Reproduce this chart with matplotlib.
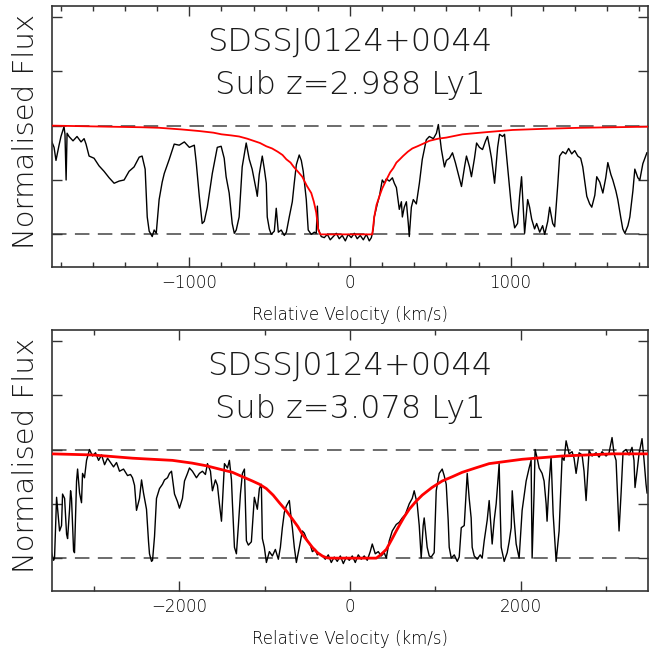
import matplotlib.pyplot as plt
from matplotlib import font_manager
from matplotlib.ticker import MultipleLocator

# Spectrum 1: sub-DLA at z=2.988 (velocity in km/s, normalised flux)
top_vel = [-1861, -1842, -1830, -1811, -1799, -1780, -1774, -1767, -1761, -1749,
           -1724, -1699, -1674, -1655, -1643, -1624, -1593, -1562, -1531, -1499,
           -1468, -1437, -1406, -1375, -1344, -1312, -1294, -1275, -1262, -1250,
           -1231, -1219, -1206, -1188, -1169, -1156, -1125, -1094, -1063, -1031,
           -1000, -969, -957, -938, -920, -907, -888, -857, -826, -802,
           -783, -771, -752, -733, -720, -708, -690, -671, -646, -627,
           -609, -584, -577, -565, -546, -533, -521, -515, -502, -490,
           -471, -459, -446, -428, -409, -396, -378, -359, -347, -334,
           -316, -303, -291, -272, -260, -241, -222, -210, -203, -197,
           -179, -160, -141, -123, -104, -85, -67, -48, -29, -11,
           8, 27, 45, 64, 83, 102, 120, 133, 145, 151,
           170, 183, 201, 214, 226, 245, 264, 276, 289, 307,
           320, 326, 338, 351, 363, 369, 382, 394, 413, 432,
           450, 475, 494, 519, 538, 550, 569, 588, 600, 619,
           638, 656, 675, 694, 713, 725, 744, 756, 775, 788,
           806, 825, 844, 856, 869, 881, 900, 919, 931, 950,
           962, 981, 1006, 1025, 1043, 1056, 1068, 1087, 1106, 1118,
           1131, 1149, 1162, 1181, 1199, 1212, 1231, 1243, 1262, 1274,
           1293, 1305, 1324, 1343, 1361, 1380, 1399, 1418, 1436, 1449,
           1474, 1492, 1505, 1524, 1536, 1555, 1574, 1592, 1605, 1624,
           1636, 1655, 1667, 1686, 1698, 1711, 1730, 1742, 1761, 1773,
           1792, 1804, 1823, 1848]
top_flux = [0.87, 0.80, 0.68, 0.82, 0.90, 0.99, 0.92, 0.50, 0.93, 0.90,
            0.86, 0.90, 0.85, 0.88, 0.83, 0.72, 0.70, 0.63, 0.58, 0.52,
            0.47, 0.49, 0.50, 0.58, 0.62, 0.71, 0.72, 0.60, 0.16, 0.03,
            -0.02, 0.04, 0.01, 0.32, 0.48, 0.56, 0.69, 0.83, 0.82, 0.85,
            0.80, 0.82, 0.66, 0.35, 0.10, 0.12, 0.25, 0.56, 0.80, 0.81,
            0.70, 0.53, 0.38, 0.10, 0.01, 0.04, 0.16, 0.62, 0.84, 0.69,
            0.60, 0.41, 0.35, 0.55, 0.72, 0.60, 0.47, 0.16, 0.05, 0.00,
            0.03, 0.24, 0.02, 0.04, -0.01, 0.02, 0.16, 0.30, 0.47, 0.64,
            0.73, 0.68, 0.58, 0.32, 0.04, 0.00, 0.02, 0.01, 0.26, 0.05,
            -0.02, -0.03, 0.00, -0.05, -0.02, 0.01, -0.04, -0.01, -0.06, 0.00,
            -0.03, 0.01, -0.04, -0.01, -0.05, 0.00, -0.06, -0.03, 0.05, 0.16,
            0.28, 0.35, 0.50, 0.47, 0.51, 0.49, 0.52, 0.47, 0.43, 0.23,
            0.30, 0.16, 0.25, 0.30, 0.10, -0.02, 0.25, 0.32, 0.28, 0.47,
            0.69, 0.87, 0.90, 0.88, 0.93, 1.01, 0.78, 0.62, 0.68, 0.70,
            0.75, 0.66, 0.55, 0.44, 0.62, 0.72, 0.62, 0.53, 0.70, 0.84,
            0.80, 0.78, 0.86, 0.90, 0.80, 0.70, 0.47, 0.80, 0.92, 0.90,
            0.92, 0.62, 0.23, 0.06, 0.10, 0.35, 0.53, 0.01, 0.32, 0.25,
            0.14, 0.05, 0.10, 0.02, 0.08, 0.00, 0.12, 0.25, 0.10, 0.07,
            0.45, 0.72, 0.76, 0.74, 0.79, 0.74, 0.77, 0.72, 0.70, 0.62,
            0.35, 0.28, 0.25, 0.36, 0.53, 0.48, 0.38, 0.52, 0.66, 0.55,
            0.50, 0.40, 0.32, 0.15, 0.05, 0.01, 0.08, 0.16, 0.40, 0.60,
            0.52, 0.50, 0.65, 0.75]
top_fit_vel = [-1861, -1500, -1300, -1188, -1050, -938, -850, -800, -740, -690,
               -640, -600, -560, -521, -485, -450, -420, -396, -370, -350,
               -320, -297, -270, -241, -225, -210, -197, -185, 139, 151,
               165, 183, 200, 226, 250, 270, 289, 310, 330, 360,
               388, 420, 450, 494, 550, 600, 700, 850, 1012, 1200,
               1430, 1853]
top_fit_flux = [1.00, 0.99, 0.985, 0.98, 0.965, 0.95, 0.935, 0.92, 0.91, 0.90,
                0.88, 0.86, 0.84, 0.81, 0.79, 0.76, 0.73, 0.69, 0.66, 0.62,
                0.57, 0.53, 0.45, 0.38, 0.30, 0.20, 0.04, 0.00, 0.00, 0.16,
                0.27, 0.35, 0.42, 0.50, 0.57, 0.61, 0.66, 0.69, 0.72, 0.76,
                0.79, 0.81, 0.83, 0.86, 0.88, 0.89, 0.92, 0.94, 0.96, 0.97,
                0.98, 0.99]

# Spectrum 2: sub-DLA at z=3.078
bot_vel = [-3495, -3471, -3460, -3436, -3424, -3401, -3378, -3366, -3342, -3319,
           -3307, -3284, -3272, -3261, -3237, -3226, -3202, -3190, -3167, -3144,
           -3132, -3109, -3085, -3050, -3015, -2980, -2944, -2909, -2874, -2839,
           -2804, -2769, -2734, -2699, -2652, -2605, -2570, -2547, -2523, -2500,
           -2465, -2441, -2418, -2383, -2359, -2348, -2324, -2312, -2289, -2266,
           -2231, -2196, -2172, -2137, -2114, -2090, -2055, -2020, -1997, -1962,
           -1938, -1903, -1880, -1845, -1798, -1763, -1728, -1693, -1669, -1634,
           -1611, -1576, -1552, -1529, -1505, -1482, -1470, -1435, -1412, -1388,
           -1377, -1353, -1330, -1307, -1283, -1260, -1236, -1213, -1190, -1155,
           -1120, -1085, -1061, -1038, -1026, -1003, -979, -944, -909, -874,
           -839, -815, -792, -769, -745, -710, -687, -675, -652, -628,
           -593, -558, -535, -500, -464, -441, -406, -383, -359, -324,
           -289, -254, -219, -184, -149, -113, -78, -43, -8, 27,
           62, 97, 132, 167, 202, 237, 261, 296, 331, 366,
           401, 425, 460, 495, 542, 577, 612, 647, 694, 729,
           752, 787, 811, 834, 857, 869, 904, 928, 951, 986,
           1010, 1045, 1080, 1103, 1127, 1150, 1162, 1186, 1221, 1256,
           1279, 1303, 1338, 1373, 1396, 1419, 1431, 1455, 1490, 1525,
           1548, 1572, 1607, 1630, 1654, 1665, 1689, 1712, 1736, 1747,
           1759, 1771, 1806, 1841, 1864, 1888, 1900, 1923, 1946, 1981,
           2016, 2063, 2098, 2121, 2133, 2156, 2168, 2192, 2215, 2250,
           2273, 2297, 2308, 2332, 2355, 2379, 2414, 2449, 2472, 2484,
           2507, 2531, 2566, 2601, 2624, 2648, 2683, 2718, 2741, 2765,
           2800, 2835, 2882, 2917, 2952, 2999, 3034, 3069, 3093, 3116,
           3151, 3175, 3198, 3233, 3268, 3303, 3326, 3338, 3362, 3385,
           3420, 3444, 3467, 3479]
bot_flux = [0.05, -0.02, 0.00, 0.56, 0.45, 0.25, 0.30, 0.59, 0.55, 0.22,
            0.18, 0.45, 0.62, 0.55, 0.07, 0.05, 0.71, 0.82, 0.60, 0.51,
            0.78, 0.74, 0.90, 1.00, 0.94, 0.97, 0.90, 0.95, 0.86, 0.92,
            0.88, 0.84, 0.88, 0.80, 0.82, 0.76, 0.77, 0.74, 0.67, 0.44,
            0.55, 0.72, 0.60, 0.45, 0.15, 0.04, -0.03, -0.02, 0.20, 0.55,
            0.64, 0.68, 0.72, 0.74, 0.78, 0.80, 0.59, 0.52, 0.46, 0.55,
            0.71, 0.78, 0.83, 0.80, 0.74, 0.78, 0.80, 0.77, 0.87, 0.80,
            0.62, 0.72, 0.67, 0.50, 0.34, 0.70, 0.87, 0.83, 0.90, 0.72,
            0.51, 0.10, 0.04, 0.30, 0.59, 0.78, 0.82, 0.16, 0.12, 0.15,
            0.56, 0.45, 0.64, 0.68, 0.18, 0.10, -0.04, 0.06, 0.02, 0.08,
            -0.01, 0.10, 0.28, 0.42, 0.48, 0.53, 0.35, 0.28, 0.10, -0.04,
            0.10, 0.25, 0.23, 0.16, 0.12, 0.06, 0.08, 0.03, 0.04, 0.02,
            -0.01, 0.03, -0.04, 0.01, -0.03, 0.02, -0.05, 0.01, -0.02, 0.02,
            -0.04, 0.03, -0.01, 0.02, -0.02, 0.06, 0.13, 0.04, 0.06, 0.02,
            0.05, 0.00, 0.16, 0.25, 0.31, 0.33, 0.37, 0.40, 0.50, 0.55,
            0.62, 0.50, 0.30, 0.00, 0.30, 0.37, 0.10, 0.02, 0.01, 0.05,
            0.62, 0.78, 0.82, 0.76, 0.68, 0.35, 0.10, 0.00, 0.03, -0.03,
            0.01, 0.28, 0.30, 0.78, 0.55, 0.37, 0.10, 0.02, -0.01, 0.03,
            0.00, 0.16, 0.35, 0.53, 0.25, 0.13, 0.35, 0.50, 0.75, 0.87,
            0.45, 0.10, -0.03, 0.05, 0.15, 0.28, 0.62, 0.35, 0.13, 0.00,
            0.44, 0.71, 0.83, 0.90, 0.00, 0.60, 1.00, 0.92, 0.83, 0.78,
            0.71, 0.50, 0.34, 0.70, 0.93, 0.41, -0.03, 0.25, 0.70, 0.93,
            0.90, 1.08, 0.96, 0.98, 0.92, 0.78, 0.97, 0.95, 0.80, 0.53,
            0.99, 0.94, 0.97, 0.93, 0.98, 0.94, 0.97, 1.11, 0.96, 0.90,
            0.25, 0.60, 0.98, 1.00, 0.95, 1.02, 0.90, 0.65, 0.80, 0.96,
            1.10, 0.90, 0.68, 0.60]
bot_fit_vel = [-3495, -3015, -2547, -2079, -1850, -1681, -1530, -1377, -1260, -1143,
               -1060, -979, -900, -827, -750, -675, -610, -558, -500, -441,
               -380, -324, -280, -242, 308, 343, 385, 425, 460, 495,
               535, 577, 635, 694, 770, 846, 960, 1080, 1200, 1314,
               1470, 1630, 2016, 2484, 3069, 3479]
bot_fit_flux = [0.96, 0.95, 0.92, 0.90, 0.875, 0.85, 0.82, 0.79, 0.75, 0.71,
                0.68, 0.64, 0.58, 0.51, 0.44, 0.36, 0.29, 0.22, 0.16, 0.10,
                0.05, 0.02, 0.005, 0.00, 0.00, 0.02, 0.05, 0.08, 0.13, 0.18,
                0.24, 0.30, 0.38, 0.45, 0.52, 0.58, 0.65, 0.71, 0.75, 0.79,
                0.83, 0.87, 0.91, 0.94, 0.96, 0.96]

panels = [
    (top_vel, top_flux, top_fit_vel, top_fit_flux, 1855, "Sub z=2.988 Ly1", 1000, 200, 1.3),
    (bot_vel, bot_flux, bot_fit_vel, bot_fit_flux, 3490, "Sub z=3.078 Ly1", 2000, 1000, 2.0),
]
qso_name = "SDSSJ0124+0044"


def find_light_font():
    """ Look for a thin installed font, close to the PGPLOT stroke font """
    for family in ['DejaVu Sans', 'Lato', 'Roboto', 'Open Sans', 'Noto Sans', 'Inter']:
        for f in font_manager.fontManager.ttflist:
            w = f.weight
            if not isinstance(w, int):
                w = font_manager.weight_dict.get(w, 400)
            if f.name == family and w <= 300 and f.style == 'normal':
                return f.fname
    return None


light_path = find_light_font()


def light(size):
    if light_path:
        return font_manager.FontProperties(fname=light_path, size=size)
    return font_manager.FontProperties(family='DejaVu Sans', size=size)


fig = plt.figure(figsize=(6.57, 6.49), dpi=100)
axes = [fig.add_axes([0.0791, 0.5886, 0.9072, 0.4022]),
        fig.add_axes([0.0791, 0.0898, 0.9072, 0.4017])]

for ax, (vel, flux, fvel, fflux, vmax, zlabel, major, minor, red_lw) in zip(axes, panels):
    # continuum and zero level
    for level in (0.0, 1.0):
        ax.axhline(level, color='#444444', lw=1.1, ls=(0, (9.5, 5.5)), zorder=1)
    ax.plot(vel, flux, color='black', lw=1.0, zorder=2)
    ax.plot(fvel, fflux, color='red', lw=red_lw, zorder=3)

    ax.set_xlim(-vmax, vmax)
    ax.set_ylim(-0.3, 2.1)
    ax.xaxis.set_major_locator(MultipleLocator(major))
    ax.xaxis.set_minor_locator(MultipleLocator(minor))
    ax.yaxis.set_major_locator(MultipleLocator(0.5))
    ax.tick_params(which='both', direction='in', top=True, right=True,
                   colors='#333333', width=1.0)
    ax.tick_params(which='major', length=7)
    ax.tick_params(which='minor', length=3.5)
    ax.tick_params(axis='x', labelcolor='black', pad=5)
    ax.tick_params(axis='y', labelleft=False)
    for lab in ax.get_xticklabels():
        lab.set_fontproperties(light(12))
    for spine in ax.spines.values():
        spine.set_color('#333333')
        spine.set_linewidth(1.2)

    ax.text(0.5, 0.862, qso_name, transform=ax.transAxes, ha='center',
            va='center', fontproperties=light(23), color='#1a1a1a')
    ax.text(0.5, 0.698, zlabel, transform=ax.transAxes, ha='center',
            va='center', fontproperties=light(23), color='#1a1a1a')

    ax.set_xlabel('Relative Velocity (km/s)', fontproperties=light(12), color='black')
    ax.xaxis.set_label_coords(0.5, -0.15)
    ax.set_ylabel('Normalised Flux', fontproperties=light(21), color='#1a1a1a')
    ax.yaxis.set_label_coords(-0.02, 0.52)

fig.savefig('out.png', dpi=100)
